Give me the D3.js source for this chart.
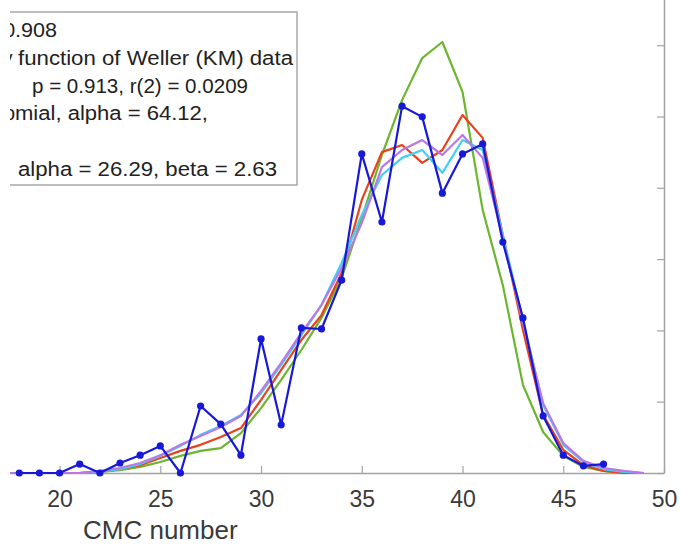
<!DOCTYPE html>
<html>
<head>
<meta charset="utf-8">
<script src="https://cdn.jsdelivr.net/npm/d3@7"></script>
<style>
  html, body { margin: 0; padding: 0; background: #fff; }
  svg { display: block; font-family: "Liberation Sans", Arial, sans-serif; }
</style>
</head>
<body>
<svg id="chart" width="682" height="545"></svg>
<script>
// ---- data ----
const cmcObserved = [18,19,20,21,22,23,24,25,26,27,28,29,30,31,32,33,34,35,36,37,38,39,40,41,42,43,44,45,46,47];
const observedProb = [0,0,0,0.0025,0,0.0028,0.0050,0.0076,0,0.0188,0.0137,0.0050,0.0376,0.0135,0.0407,0.0404,0.0541,0.0895,0.0704,0.1029,0.0999,0.0785,0.0895,0.0923,0.0648,0.0435,0.0160,0.0050,0.0020,0.0025];

const cmcFit = [17,18,19,20,21,22,23,24,25,26,27,28,29,30,31,32,33,34,35,36,37,38,39,40,41,42,43,44,45,46,47,48,49];
const binomialProb = [0,0,0,0,0,0.0003,0.0008,0.0017,0.0031,0.0048,0.0062,0.0070,0.0112,0.0182,0.0261,0.0345,0.0435,0.0547,0.0715,0.0892,0.1046,0.1164,0.1209,0.1069,0.0738,0.0527,0.0247,0.0115,0.0048,0.0017,0.0006,0,0];
const poissonProb  = [0,0,0,0,0,0.0003,0.0011,0.0022,0.0042,0.0062,0.0079,0.0101,0.0126,0.0205,0.0289,0.0373,0.0443,0.0561,0.0766,0.0900,0.0920,0.0870,0.0906,0.1004,0.0940,0.0668,0.0401,0.0163,0.0065,0.0022,0.0006,0,0];
const kmProb       = [0,0,0,0,0,0.0003,0.0011,0.0025,0.0048,0.0076,0.0107,0.0132,0.0163,0.0224,0.0303,0.0387,0.0471,0.0589,0.0724,0.0836,0.0884,0.0906,0.0842,0.0934,0.0906,0.0668,0.0429,0.0191,0.0079,0.0031,0.0011,0.0003,0];
const betaBinProb  = [0,0,0,0,0,0.0006,0.0014,0.0028,0.0050,0.0079,0.0104,0.0129,0.0160,0.0230,0.0309,0.0393,0.0471,0.0575,0.0701,0.0858,0.0906,0.0934,0.0892,0.0948,0.0884,0.0659,0.0421,0.0196,0.0084,0.0034,0.0014,0.0006,0];

const xTicks = [20,25,30,35,40,45,50];
const yTicks = [0,0.02,0.04,0.06,0.08,0.10,0.12,0.14];

// legend lines: [hidden-left prefix, visible text]
const legendPrefix  = ["R = 0", "Probability ", "", "Bino", "", ""];
const legendVisible = [".908", "function of Weller (KM) data", "p = 0.913, r(2) = 0.0209", "mial, alpha = 64.12,", "", "alpha = 26.29, beta = 2.63"];
const legendStart = [15, 18, 32, 15, 0, 18];
const legendEnd   = [57, 293, 248, 208, 0, 277];

// ---- layout ----
const svg = d3.select("#chart");
svg.append("defs").append("clipPath").attr("id", "crop")
  .append("rect").attr("x", 10).attr("y", 0).attr("width", 672).attr("height", 545);
const root = svg.append("g").attr("clip-path", "url(#crop)");

const x = d3.scaleLinear().domain([0, 50]).range([-343.4, 664]);
const y = d3.scaleLinear().domain([0, 0.14]).range([473, 473 - 7 * 71.3]);

const axisColor = "#a3a3a3";
const textColor = "#3a3a3a";

// bottom axis
const gx = root.append("g").attr("transform", "translate(0,473)")
  .call(d3.axisBottom(x).tickValues(xTicks).tickSizeInner(-7).tickSizeOuter(0).tickPadding(17.5));
gx.select(".domain").attr("stroke", axisColor).attr("stroke-width", 1.5);
gx.selectAll(".tick line").attr("stroke", axisColor).attr("stroke-width", 1.2);
gx.selectAll(".tick text").attr("fill", textColor).attr("font-size", 23)
  .attr("font-family", "'Liberation Sans', Arial, sans-serif");

// right axis (box side, inward ticks, no labels)
const gy = root.append("g").attr("transform", "translate(664,0)")
  .call(d3.axisLeft(y).tickValues(yTicks).tickSizeInner(7).tickSizeOuter(0).tickFormat(""));
gy.select(".domain").attr("stroke", axisColor).attr("stroke-width", 1.5);
gy.selectAll(".tick line").attr("stroke", axisColor).attr("stroke-width", 1.2);

// x label
root.append("text").attr("x", (x(0) + x(50)) / 2).attr("y", 539)
  .attr("text-anchor", "middle").attr("font-size", 26).attr("fill", textColor)
  .text("CMC number");

// ---- lines ----
const line = d3.line().x(d => x(d[0])).y(d => y(d[1]));
const fits = [
  { vals: binomialProb, color: "#6cb62f" },
  { vals: poissonProb, color: "#e8411c" },
  { vals: kmProb, color: "#3fd0f5" },
  { vals: betaBinProb, color: "#bb78e4" }
];
fits.forEach(f => {
  root.append("path").datum(cmcFit.map((c, i) => [c, f.vals[i]]))
    .attr("d", line).attr("fill", "none").attr("stroke", f.color)
    .attr("stroke-width", 2.2).attr("stroke-linejoin", "round");
});

const obs = cmcObserved.map((c, i) => [c, observedProb[i]]);
root.append("path").datum(obs).attr("d", line).attr("fill", "none")
  .attr("stroke", "#1818d8").attr("stroke-width", 2.2).attr("stroke-linejoin", "round");
root.append("g").selectAll("circle").data(obs).join("circle")
  .attr("cx", d => x(d[0])).attr("cy", d => y(d[1])).attr("r", 3.6).attr("fill", "#1818d8");

// ---- legend ----
const lg = root.append("g");
lg.append("rect").attr("x", -400).attr("y", 12).attr("width", 697).attr("height", 173)
  .attr("fill", "#fff").attr("stroke", "#a8a8a8").attr("stroke-width", 1.5);
legendVisible.forEach((t, i) => {
  if (!t) return;
  const yb = 37 + i * 27.8;
  if (legendPrefix[i]) {
    lg.append("text").attr("x", legendStart[i]).attr("y", yb)
      .attr("text-anchor", "end").attr("font-size", 20).attr("fill", "#222")
      .style("white-space", "pre").text(legendPrefix[i]);
  }
  lg.append("text").attr("x", legendStart[i]).attr("y", yb)
    .attr("font-size", 20).attr("fill", "#222")
    .attr("textLength", legendEnd[i] - legendStart[i]).attr("lengthAdjust", "spacingAndGlyphs")
    .text(t);
});
</script>
</body>
</html>
